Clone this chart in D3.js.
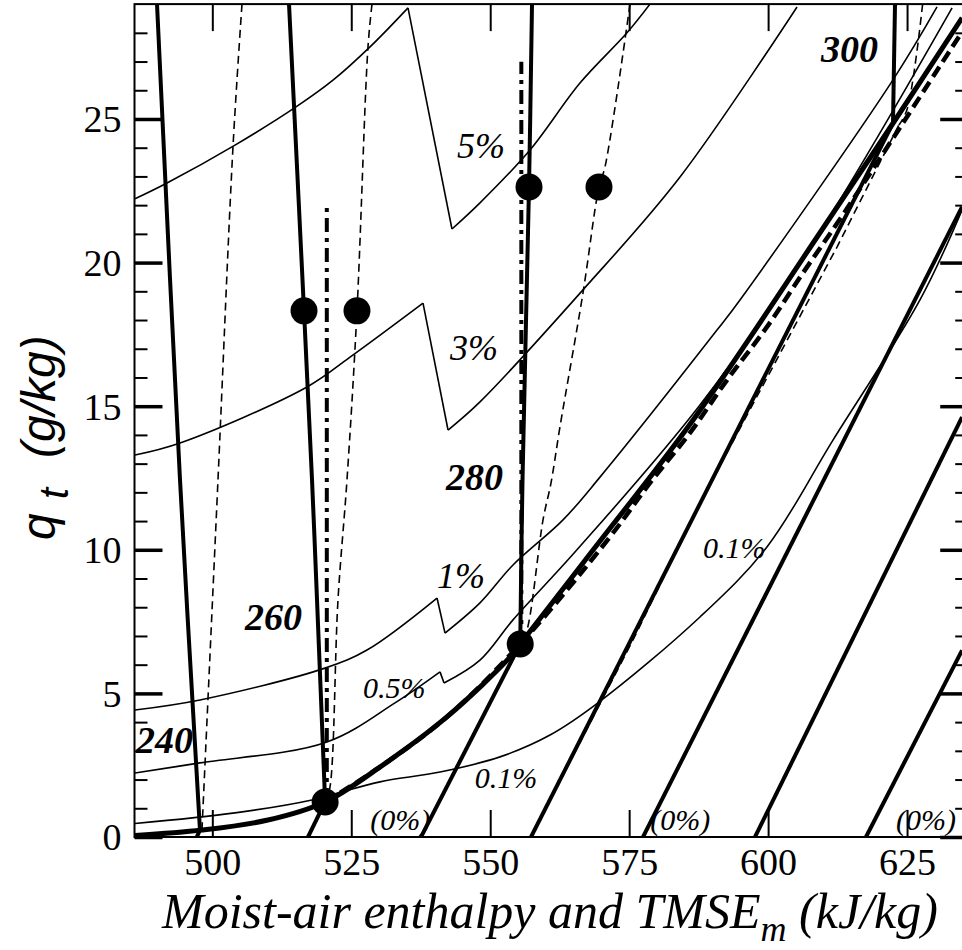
<!DOCTYPE html>
<html>
<head>
<meta charset="utf-8">
<script src="https://cdn.jsdelivr.net/npm/d3@7"></script>
<style>
  body { margin: 0; background: #fff; }
  svg { display: block; }
</style>
</head>
<body>
<svg id="chart"></svg>
<script>
// ticks
const xTicks = [500, 525, 550, 575, 600, 625];
const yTicks = [0, 5, 10, 15, 20, 25];
const yMinorTicks = [1, 2, 3, 4, 6, 7, 8, 9, 11, 12, 13, 14, 16, 17, 18, 19, 21, 22, 23, 24, 26, 27, 28];

// points are [enthalpy (kJ/kg), qt (g/kg)]
// saturation curve (thick solid) and the TMSE_m one (thick dashed)
const saturation = [[486.1, 0.05], [498.1, 0.24], [510.0, 0.59], [520.3, 1.22], [530.2, 2.44], [542.2, 4.18],
  [553.6, 6.27], [555.4, 6.72], [568.5, 9.99], [586.5, 14.52], [609.3, 21.03], [622.5, 24.86], [634.9, 28.52]];
const saturationTmse = [[520.3, 1.22], [530.2, 2.44], [542.2, 4.18], [555.4, 6.72], [571.55, 10.45], [578.75, 12.33],
  [585.94, 14.07], [592.6, 15.91], [599.79, 17.76], [606.27, 19.64], [612.57, 21.41], [619.58, 23.47], [634.89, 28.03]];

// isotherms, saturated part (thick solid)
const iso240 = [[490.05, 29.0], [494.19, 12.43], [497.78, 0.24]];
const iso260 = [[513.8, 29.0], [516.5, 18.32], [517.94, 12.43], [518.84, 8.25], [520.3, 1.22]];
const iso280 = [[557.52, 29.0], [556.98, 22.63], [555.81, 12.43], [555.4, 6.72]];
const iso300 = [[622.83, 29.0], [622.47, 24.86]];

// isotherms, unsaturated part (thick solid)
const dry240 = [[497.2, 0], [497.78, 0.24]];
const dry260 = [[517.22, 0], [520.3, 1.22]];
const dry280 = [[537.55, 0], [555.4, 6.72]];
const dry300 = [[557.34, 0], [622.47, 24.86]];
const dry320 = [[577.49, 0], [634.89, 21.94]];
const dry340 = [[597.64, 0], [634.89, 14.62]];
const dry360 = [[617.61, 0], [634.89, 6.5]];

// isotherms with TMSE_m (thin dashed)
const tmse240 = [[505.34, 29.0], [503.72, 24.03], [501.02, 12.43], [498.14, 0.24]];
const tmse260 = [[528.73, 29.0], [528.01, 27.51], [526.03, 18.32], [524.23, 12.43], [522.61, 8.25], [521.17, 1.74], [520.45, 1.29]];
const tmse280 = [[575.15, 29.0], [570.65, 23.33], [569.57, 22.63], [566.69, 18.94], [562.55, 14.28], [560.94, 12.33],
  [559.5, 11.04], [556.62, 7.21], [555.54, 6.76]];
const tmse300 = [[627.8, 29.0], [624.97, 25.31], [623.53, 24.79]];
const tmseDry260 = [[517.22, 0], [520.45, 1.29]];
const tmseDry280 = [[537.55, 0], [555.54, 6.76]];
const tmseDry300 = [[557.34, 0], [575.69, 6.86], [587.74, 11.63], [612.39, 20.54], [623.71, 24.86]];

// constant enthalpy from the two saturation points (dash-dot)
const hConst260 = [[520.6, 1.22], [520.6, 21.94]];
const hConst280 = [[555.6, 6.72], [555.6, 26.99]];

// relative error isolines (thin solid), left and right of the jump
const err5Left = [[486.09, 22.22], [491.85, 22.77], [504.08, 24.09], [515.06, 25.42], [521.71, 26.35], [528.37, 27.51], [535.21, 28.87]];
const err5Right = [[543.12, 21.17], [548.16, 22.08], [557.16, 23.92], [566.15, 26.25], [574.61, 28.0], [578.75, 29.0]];
const err3Left = [[486.09, 13.3], [494.19, 13.72], [517.04, 15.67], [524.78, 16.71], [537.91, 18.59]];
const err3Right = [[542.41, 14.17], [548.16, 15.15], [566.69, 19.05], [584.15, 22.98], [605.2, 28.9]];
const err1Left = [[486.09, 4.42], [497.78, 4.77], [520.27, 5.88], [527.83, 6.51], [540.43, 8.32]];
const err1Right = [[541.87, 7.1], [548.16, 8.15], [554.1, 9.47], [563.1, 11.04], [569.75, 12.53], [590.8, 17.65],
  [594.94, 18.7], [622.47, 26.36], [630.39, 28.9]];
const err05Left = [[486.09, 2.23], [497.78, 2.58], [520.63, 3.31], [532.87, 4.67], [540.97, 5.75]];
const err05Right = [[541.69, 5.36], [548.16, 6.16], [554.1, 7.56], [565.25, 9.92], [587.74, 15.04], [608.43, 20.79], [633.1, 28.87]];
const err01 = [[486.09, 0.47], [504.08, 0.84], [517.94, 1.29], [522.61, 1.53], [530.17, 1.92], [540.97, 2.26], [551.76, 2.79],
  [560.76, 3.55], [569.39, 4.67], [587.74, 7.66], [599.79, 10.1], [611.67, 13.82], [627.32, 18.7], [634.89, 21.83]];

// black dots
const dots = [[516.5, 18.32], [526.03, 18.32], [556.98, 22.63], [569.57, 22.63], [520.3, 1.22], [555.4, 6.72]];

// text placed on the diagram [text, h, q]
const tempLabels = [["240", 486.27, 2.92], ["260", 505.88, 7.21], ["280", 542.04, 12.08], ["300", 609.51, 26.99]];
const bigErrLabels = [["5%", 544.02, 23.64], ["3%", 542.77, 16.61], ["1%", 540.43, 8.67]];
const smallErrLabels = [["0.5%", 527.1, 4.84], ["0.1%", 547.2, 1.71], ["0.1%", 588.3, 9.71],
  ["(0%)", 528.4, 0.24], ["(0%)", 578.8, 0.24], ["(0%)", 623.0, 0.24]];

const width = 962;
const height = 950;
const serif = "Liberation Serif, Times New Roman, serif";

const svg = d3.select("#chart").attr("width", width).attr("height", height);

const x = d3.scaleLinear().domain([486, 636]).range([134.5, 968.2]);
const y = d3.scaleLinear().domain([0, 29]).range([837, 4.1]);

svg.append("defs").append("clipPath").attr("id", "plot")
  .append("rect")
  .attr("x", x(486)).attr("y", y(29))
  .attr("width", x(636) - x(486)).attr("height", y(0) - y(29));

const plot = svg.append("g").attr("clip-path", "url(#plot)");

const smooth = d3.line().x((d) => x(d[0])).y((d) => y(d[1])).curve(d3.curveCatmullRom.alpha(0.5));
const straight = d3.line().x((d) => x(d[0])).y((d) => y(d[1]));

const draw = (data, gen, w, dash) => {
  plot.append("path")
    .attr("d", gen(data))
    .attr("fill", "none")
    .attr("stroke", "#000")
    .attr("stroke-width", w)
    .attr("stroke-dasharray", dash || null)
    .attr("stroke-linejoin", "round");
};

// error isolines with their jump
[[err5Left, err5Right], [err3Left, err3Right], [err1Left, err1Right], [err05Left, err05Right]].forEach(([l, r]) => {
  draw(l, smooth, 1.6);
  draw([l[l.length - 1], r[0]], straight, 1.6);
  draw(r, smooth, 1.6);
});
draw(err01, smooth, 1.6);

// thin dashed TMSE_m isotherms
[tmse240, tmse260, tmse280, tmse300].forEach((d) => draw(d, smooth, 1.6, "8,5"));
[tmseDry260, tmseDry280, tmseDry300].forEach((d) => draw(d, straight, 1.6, "8,5"));

// thick isotherms
[iso240, iso260, iso280, iso300].forEach((d) => draw(d, smooth, 4));
[dry240, dry260, dry280, dry300, dry320, dry340, dry360].forEach((d) => draw(d, straight, 4));

// dash-dot verticals
[hConst260, hConst280].forEach((d) => draw(d, straight, 4, "14,6,4,6"));

// saturation curves
draw(saturationTmse, smooth, 4.5, "12,6");
draw(saturation, smooth, 5);

plot.selectAll(".dot")
  .data(dots)
  .enter()
  .append("circle")
  .attr("class", "dot")
  .attr("cx", (d) => x(d[0]))
  .attr("cy", (d) => y(d[1]))
  .attr("r", 13.5)
  .attr("fill", "#000");

// axes, ticks point inward
const styleAxis = (g, w) => {
  g.select(".domain").remove();
  g.selectAll(".tick line").attr("stroke", "#000").attr("stroke-width", w);
};
const styleLabels = (g) => g.selectAll("text")
  .style("font-family", serif).style("font-size", "38px").attr("fill", "#000");

svg.append("g")
  .attr("transform", `translate(0,${y(0)})`)
  .call(d3.axisBottom(x).tickValues(xTicks).tickSize(-27).tickPadding(11).tickFormat(d3.format("d")))
  .call((g) => styleAxis(g, 2))
  .call(styleLabels);

svg.append("g")
  .attr("transform", `translate(0,${y(29)})`)
  .call(d3.axisTop(x).tickValues(xTicks).tickSize(-27).tickFormat(""))
  .call((g) => styleAxis(g, 2));

svg.append("g")
  .attr("transform", `translate(${x(486)},0)`)
  .call(d3.axisLeft(y).tickValues(yTicks).tickSize(-28).tickPadding(13).tickFormat(d3.format("d")))
  .call((g) => styleAxis(g, 3.5))
  .call(styleLabels)
  .call((g) => g.selectAll("text").attr("dy", "0.34em"));

svg.append("g")
  .attr("transform", `translate(${x(486)},0)`)
  .call(d3.axisLeft(y).tickValues(yMinorTicks).tickSize(-13).tickFormat(""))
  .call((g) => styleAxis(g, 2));

svg.append("g")
  .attr("transform", `translate(${x(636)},0)`)
  .call(d3.axisRight(y).tickValues(yTicks).tickSize(-28).tickFormat(""))
  .call((g) => styleAxis(g, 3.5));

svg.append("g")
  .attr("transform", `translate(${x(636)},0)`)
  .call(d3.axisRight(y).tickValues(yMinorTicks).tickSize(-13).tickFormat(""))
  .call((g) => styleAxis(g, 2));

// frame
svg.append("rect")
  .attr("x", x(486)).attr("y", y(29))
  .attr("width", x(636) - x(486)).attr("height", y(0) - y(29))
  .attr("fill", "none").attr("stroke", "#000").attr("stroke-width", 2);

// in-plot text
const putText = (data, size, weight) => {
  svg.append("g").selectAll("text")
    .data(data)
    .enter()
    .append("text")
    .attr("x", (d) => x(d[1]))
    .attr("y", (d) => y(d[2]))
    .style("font-family", serif)
    .style("font-style", "italic")
    .style("font-weight", weight)
    .style("font-size", size + "px")
    .text((d) => d[0]);
};
putText(tempLabels, 38, "bold");
putText(bigErrLabels, 36, "normal");
putText(smallErrLabels, 30, "normal");

// axis titles
const xTitle = svg.append("text")
  .attr("x", 162).attr("y", 928)
  .style("font-family", serif).style("font-style", "italic").style("font-size", "50px");
xTitle.append("tspan").text("Moist-air enthalpy and TMSE");
xTitle.append("tspan").style("font-size", "36px").attr("dy", 13).text("m");
xTitle.append("tspan").attr("dy", -13).text(" (kJ/kg)");

const yTitle = svg.append("text")
  .attr("transform", "translate(55,540) rotate(-90)")
  .style("font-family", "Liberation Sans, Arial, sans-serif")
  .style("font-style", "italic").style("font-size", "48px");
yTitle.append("tspan").text("q");
yTitle.append("tspan").attr("x", 41).attr("dy", 13).style("font-size", "40px").text("t");
yTitle.append("tspan").attr("x", 82).attr("dy", -13).text("(g/kg)");
</script>
</body>
</html>
